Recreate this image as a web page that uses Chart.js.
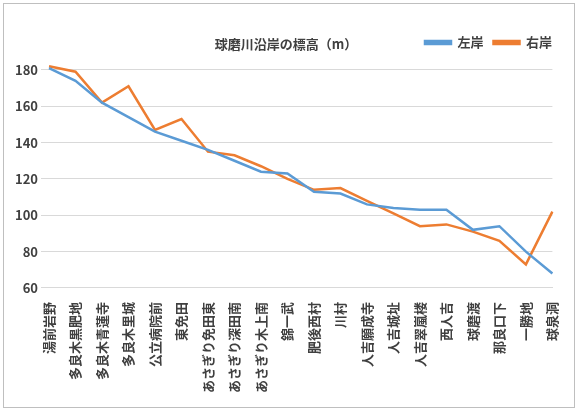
<!DOCTYPE html><html><head><meta charset="utf-8"><script src="https://cdn.jsdelivr.net/npm/chart.js@4"></script>
<style>body{margin:0;background:#fff}#w{position:absolute;left:3px;top:3px;width:572px;height:405px;border:1px solid #bfbfbf;box-sizing:border-box}</style></head><body>
<div id="w"><canvas id="c"></canvas></div>
<script>
const categories=["湯前岩野","多良木黒肥地","多良木青蓮寺","多良木里城","公立病院前","東免田","あさぎり免田東","あさぎり深田南","あさぎり木上南","錦一武","肥後西村","川村","人吉願成寺","人吉城址","人吉翠嵐楼","西人吉","球磨渡","那良口下","一勝地","球泉洞"];
const leftBank=[181,174,162,154,146,141,136,130,124,123,113,112,106,104,103,103,92,94,80,68];
const rightBank=[182,179,162,171,147,153,135,133,127,120,114,115,108,101,94,95,91,86,73,102];
const F="'Noto Sans CJK JP','Noto Sans',sans-serif";
new Chart(document.getElementById('c'),{type:'line',
data:{labels:categories,datasets:[
{label:'左岸',data:leftBank,borderColor:'#5b9bd5',backgroundColor:'#5b9bd5',borderWidth:2.5,pointRadius:0,tension:0},
{label:'右岸',data:rightBank,borderColor:'#ed7d31',backgroundColor:'#ed7d31',borderWidth:2.5,pointRadius:0,tension:0}]},
options:{responsive:true,maintainAspectRatio:false,animation:false,
layout:{padding:{left:8,right:12,top:22,bottom:8}},
plugins:{legend:{position:'top',align:'end',labels:{boxWidth:26,boxHeight:3,padding:10,font:{family:F,size:13,weight:'bold'},color:'#404040'}},
tooltip:{enabled:false}},
scales:{x:{grid:{display:false},border:{color:'#d9d9d9'},ticks:{autoSkip:false,minRotation:90,maxRotation:90,padding:6,font:{family:F,size:13,weight:'bold'},color:'#404040'}},
y:{min:60,max:186,afterBuildTicks(a){a.ticks=[60,80,100,120,140,160,180].map(v=>({value:v}));},ticks:{font:{family:F,size:13,weight:'bold'},color:'#404040'},grid:{color:'#d9d9d9'},border:{display:false}}}},
plugins:[{id:'t',afterDraw(ch){const x=ch.ctx;x.save();x.font="bold 13px "+F;x.fillStyle='#404040';x.textAlign='center';x.textBaseline='middle';x.fillText('球磨川沿岸の標高（m）',282,40);x.restore();}}]
});
</script></body></html>
